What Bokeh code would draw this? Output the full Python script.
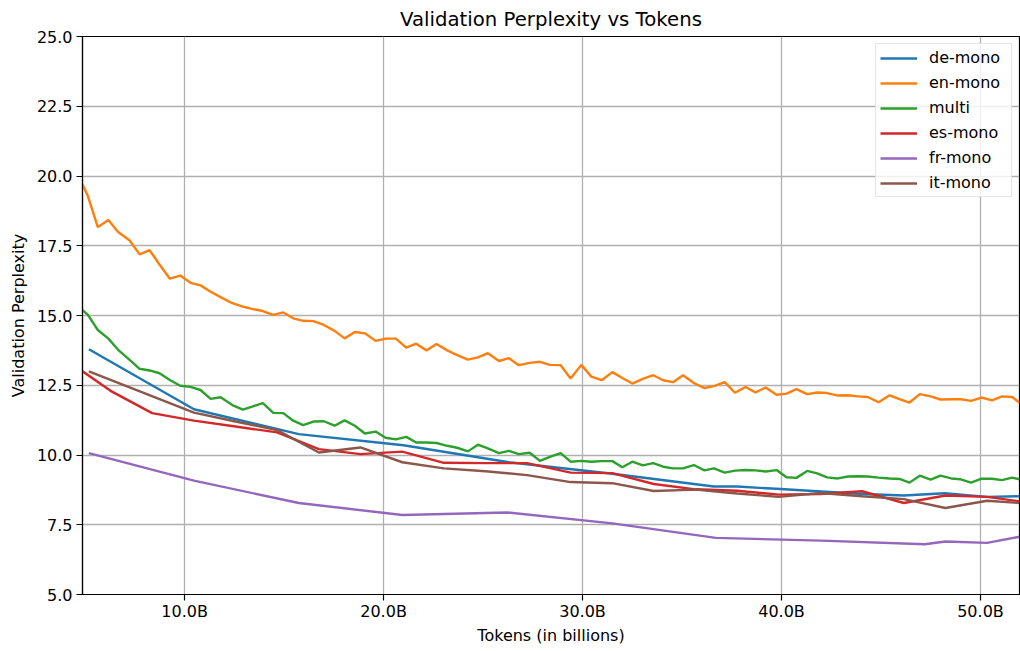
from bokeh.plotting import figure
from bokeh.models import Range1d, FixedTicker, PrintfTickFormatter
from bokeh.embed import file_html
from bokeh.resources import INLINE

# ---- data (tokens in billions, validation perplexity) ----
dense_tokens = [4.87, 5.14, 5.64, 6.17, 6.66, 7.24, 7.74, 8.24, 8.74, 9.26,
                9.78, 10.3, 10.8, 11.31, 11.81, 12.4, 12.93, 13.43, 13.93, 14.46,
                14.96, 15.46, 15.96, 16.47, 17.0, 17.54, 18.04, 18.56, 19.06, 19.6,
                20.1, 20.62, 21.14, 21.64, 22.16, 22.66, 23.2, 23.7, 24.24, 24.74,
                25.24, 25.8, 26.3, 26.8, 27.34, 27.86, 28.36, 28.9, 29.4, 29.94,
                30.44, 30.96, 31.5, 32.0, 32.5, 33.03, 33.55, 34.05, 34.55, 35.05,
                35.59, 36.13, 36.6, 37.15, 37.66, 38.19, 38.69, 39.2, 39.75, 40.25,
                40.75, 41.29, 41.79, 42.29, 42.83, 43.33, 43.83, 44.33, 44.88, 45.43,
                45.93, 46.43, 46.95, 47.49, 47.99, 48.53, 49.0, 49.53, 50.05, 50.58,
                51.08, 51.59, 51.96]

en_mono = [19.7, 19.28, 18.17, 18.42, 17.99, 17.69, 17.19, 17.34, 16.83, 16.32,
           16.43, 16.17, 16.08, 15.85, 15.66, 15.44, 15.32, 15.23, 15.16, 15.02,
           15.11, 14.90, 14.81, 14.80, 14.66, 14.45, 14.18, 14.41, 14.36, 14.09,
           14.17, 14.17, 13.85, 13.99, 13.75, 13.98, 13.75, 13.58, 13.42, 13.50,
           13.65, 13.37, 13.47, 13.22, 13.30, 13.34, 13.23, 13.22, 12.74, 13.23,
           12.81, 12.68, 12.97, 12.76, 12.56, 12.73, 12.86, 12.68, 12.61, 12.86,
           12.58, 12.40, 12.47, 12.61, 12.23, 12.44, 12.24, 12.42, 12.16, 12.20,
           12.36, 12.18, 12.24, 12.22, 12.13, 12.14, 12.10, 12.08, 11.89, 12.14,
           12.00, 11.88, 12.18, 12.10, 11.99, 12.00, 12.00, 11.94, 12.06, 11.96,
           12.10, 12.08, 11.88]

multi = [15.19, 15.02, 14.48, 14.17, 13.77, 13.41, 13.09, 13.03, 12.93, 12.69,
         12.48, 12.44, 12.33, 12.01, 12.07, 11.79, 11.63, 11.74, 11.86, 11.51,
         11.50, 11.23, 11.07, 11.20, 11.21, 11.05, 11.24, 11.05, 10.77, 10.84,
         10.62, 10.56, 10.65, 10.45, 10.45, 10.43, 10.33, 10.26, 10.13, 10.37,
         10.24, 10.07, 10.15, 10.03, 10.08, 9.79, 9.93, 10.07, 9.76, 9.79,
         9.76, 9.78, 9.78, 9.56, 9.76, 9.63, 9.71, 9.58, 9.52, 9.52,
         9.64, 9.45, 9.52, 9.37, 9.44, 9.46, 9.45, 9.41, 9.46, 9.20,
         9.18, 9.43, 9.34, 9.20, 9.16, 9.23, 9.24, 9.23, 9.19, 9.16,
         9.14, 9.01, 9.26, 9.12, 9.26, 9.16, 9.13, 9.01, 9.15, 9.15,
         9.10, 9.19, 9.13]

de_tokens = [5.19, 10.47, 15.74, 21.0, 26.3, 31.5, 36.6, 37.77, 39.95, 42.0,
             44.1, 46.15, 48.2, 50.33, 51.96]
de_mono = [13.79, 11.64, 10.75, 10.35, 9.74, 9.33, 8.87, 8.87, 8.78, 8.69,
           8.60, 8.55, 8.63, 8.50, 8.52]

es_tokens = [4.87, 6.28, 8.37, 10.47, 12.56, 14.65, 16.75, 18.84, 20.94, 23.03,
             25.12, 27.21, 29.4, 31.49, 33.58, 35.68, 37.77, 39.86, 41.96, 44.05,
             46.15, 48.24, 50.33, 51.96]
es_mono = [13.0, 12.3, 11.5, 11.23, 11.02, 10.81, 10.21, 10.03, 10.12, 9.72,
           9.71, 9.71, 9.37, 9.35, 8.96, 8.77, 8.72, 8.58, 8.60, 8.70,
           8.28, 8.55, 8.50, 8.34]

fr_tokens = [5.19, 10.47, 15.74, 20.94, 26.21, 31.5, 36.7, 42.0, 47.2, 48.24,
             50.33, 51.96]
fr_mono = [10.07, 9.08, 8.28, 7.85, 7.94, 7.55, 7.03, 6.93, 6.80, 6.90,
           6.85, 7.07]

it_tokens = [5.19, 10.47, 12.56, 14.65, 16.75, 18.84, 20.94, 23.03, 25.12, 27.21,
             29.4, 31.49, 33.58, 35.68, 37.77, 39.86, 41.96, 44.05, 46.15, 48.24,
             50.33, 51.96]
it_mono = [13.0, 11.52, 11.2, 10.89, 10.09, 10.27, 9.74, 9.52, 9.42, 9.28,
           9.03, 8.99, 8.71, 8.76, 8.62, 8.50, 8.64, 8.52, 8.42, 8.10,
           8.36, 8.28]

x_ticks = [10, 20, 30, 40, 50]
y_ticks = [5.0, 7.5, 10.0, 12.5, 15.0, 17.5, 20.0, 22.5, 25.0]

series = [
    ("de-mono", de_tokens, de_mono, "#1f77b4"),
    ("en-mono", dense_tokens, en_mono, "#ff7f0e"),
    ("multi", dense_tokens, multi, "#2ca02c"),
    ("es-mono", es_tokens, es_mono, "#d62728"),
    ("fr-mono", fr_tokens, fr_mono, "#9467bd"),
    ("it-mono", it_tokens, it_mono, "#8c564b"),
]

FONT = "DejaVu Sans"

p = figure(width=1020, height=651, output_backend="svg", toolbar_location=None,
           x_range=Range1d(4.87, 51.96), y_range=Range1d(5, 25),
           title="Validation Perplexity vs Tokens",
           min_border_left=82, min_border_right=1, min_border_top=35, min_border_bottom=57)

p.title.align = "center"
p.title.text_font = FONT
p.title.text_font_size = "19.7px"
p.title.text_font_style = "normal"
p.title.text_color = "black"
p.title.standoff = 11

for name, xs, ys, color in series:
    p.line(xs, ys, line_color=color, line_width=2.4, legend_label=name)

for ax in (p.xaxis[0], p.yaxis[0]):
    ax.major_label_text_font = FONT
    ax.major_label_text_font_size = "16px"
    ax.major_label_text_color = "black"
    ax.axis_label_text_font = FONT
    ax.axis_label_text_font_size = "16px"
    ax.axis_label_text_font_style = "normal"
    ax.axis_label_text_color = "black"
    ax.axis_line_color = "black"
    ax.axis_line_width = 1.2
    ax.major_tick_line_color = "black"
    ax.major_tick_line_width = 1.2
    ax.major_tick_out = 6
    ax.major_tick_in = 0
    ax.minor_tick_line_color = None

p.xaxis.axis_label = "Tokens (in billions)"
p.yaxis.axis_label = "Validation Perplexity"
p.xaxis.ticker = FixedTicker(ticks=x_ticks)
p.yaxis.ticker = FixedTicker(ticks=y_ticks)
p.xaxis.formatter = PrintfTickFormatter(format="%.1fB")
p.yaxis.formatter = PrintfTickFormatter(format="%.1f")
p.xaxis.major_label_standoff = 1
p.xaxis.axis_label_standoff = 2
p.yaxis.major_label_standoff = 4
p.yaxis.axis_label_standoff = 6

p.xgrid.grid_line_color = "#b0b0b0"
p.ygrid.grid_line_color = "#b0b0b0"
p.xgrid.grid_line_width = 1.3
p.ygrid.grid_line_width = 1.3

p.outline_line_color = "black"
p.outline_line_width = 1.2
p.background_fill_color = "white"
p.border_fill_color = "white"

lg = p.legend[0]
lg.location = "top_right"
lg.margin = 7
lg.padding = 4
lg.spacing = 6
lg.glyph_width = 37
lg.glyph_height = 16
lg.label_height = 16
lg.label_width = 78
lg.label_standoff = 12
lg.label_text_font = FONT
lg.label_text_font_size = "16px"
lg.label_text_color = "black"
lg.border_line_color = "#cccccc"
lg.border_line_width = 1.2
lg.background_fill_alpha = 0.8

open("out.html", "w").write(file_html(p, INLINE))
